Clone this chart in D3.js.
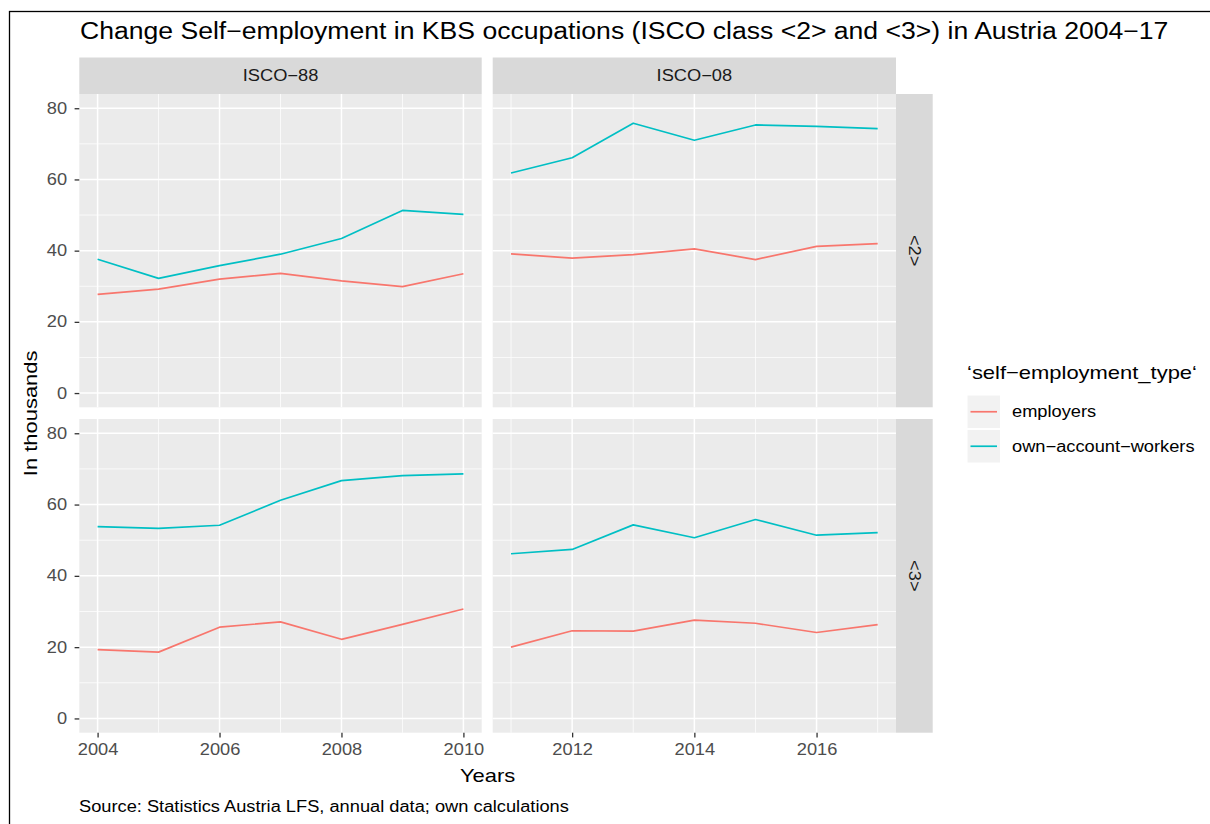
<!DOCTYPE html>
<html>
<head>
<meta charset="utf-8">
<script src="https://cdn.jsdelivr.net/npm/d3@7"></script>
<style>
  html, body { margin: 0; padding: 0; background: #fff; }
  svg { display: block; font-family: "Liberation Sans", Arial, Helvetica, sans-serif; }
</style>
</head>
<body>
<svg id="chart" width="1210" height="824"></svg>
<script>
// Self-employment (thousands) by ISCO classification period and occupation class
const yearsISCO88 = [2004, 2005, 2006, 2007, 2008, 2009, 2010];
const yearsISCO08 = [2011, 2012, 2013, 2014, 2015, 2016, 2017];

const columns = ["ISCO\u221288", "ISCO\u221208"];
const rows = ["<2>", "<3>"];
const seriesNames = ["employers", "own\u2212account\u2212workers"];
const seriesColors = ["#F8766D", "#00BFC4"];

// class <2>
const employers2_88 = [27.7, 29.2, 32.0, 33.6, 31.5, 29.9, 33.5];
const ownAccount2_88 = [37.6, 32.2, 35.8, 39.0, 43.4, 51.3, 50.2];
const employers2_08 = [39.1, 37.9, 38.9, 40.5, 37.5, 41.2, 42.0];
const ownAccount2_08 = [61.8, 66.1, 75.8, 71.0, 75.3, 74.9, 74.3];
// class <3>
const employers3_88 = [19.3, 18.6, 25.6, 27.1, 22.2, 26.4, 30.7];
const ownAccount3_88 = [53.8, 53.3, 54.2, 61.2, 66.7, 68.1, 68.6];
const employers3_08 = [20.0, 24.6, 24.5, 27.6, 26.7, 24.1, 26.3];
const ownAccount3_08 = [46.2, 47.4, 54.3, 50.7, 55.8, 51.4, 52.1];

const yTicks = [0, 20, 40, 60, 80];
const yMinor = [10, 30, 50, 70];
const xTicks88 = [2004, 2006, 2008, 2010];
const xMinor88 = [2005, 2007, 2009];
const xTicks08 = [2012, 2014, 2016];
const xMinor08 = [2011, 2013, 2015, 2017];

const titleText = "Change Self\u2212employment in KBS occupations (ISCO class <2> and <3>) in Austria 2004\u221217";
const xLabel = "Years";
const yLabel = "In thousands";
const legendTitle = "\u2018self\u2212employment_type\u2018";
const caption = "Source: Statistics Austria LFS, annual data; own calculations";

// facet cells: [row][col]
const cells = [
  [
    { years: yearsISCO88, values: [employers2_88, ownAccount2_88] },
    { years: yearsISCO08, values: [employers2_08, ownAccount2_08] }
  ],
  [
    { years: yearsISCO88, values: [employers3_88, ownAccount3_88] },
    { years: yearsISCO08, values: [employers3_08, ownAccount3_08] }
  ]
];

const svg = d3.select("#chart");

// type sizes
const baseSize = 19;
const smallSize = 15.8;
const titleSize = 23;
const textStretch = 1.155;   // glyphs are set slightly wide

// layout
const colX = [[79.3, 481.7], [492.7, 896]];
const rowY = [[94, 407.3], [419, 732.7]];
const stripTop = 57.5;
const stripRight = 932.7;

const xScales = [
  d3.scaleLinear().domain([2003.7, 2010.3]).range(colX[0]),
  d3.scaleLinear().domain([2010.7, 2017.3]).range(colX[1])
];
const yScales = rowY.map(r => d3.scaleLinear().domain([-4, 84]).range([r[1], r[0]]));
const xMajor = [xTicks88, xTicks08];
const xMinors = [xMinor88, xMinor08];

// outer frame
svg.append("rect")
  .attr("x", 9.5).attr("y", 11.5)
  .attr("width", 1400).attr("height", 1000)
  .attr("fill", "none").attr("stroke", "#000").attr("stroke-width", 1.3);

// title
svg.append("text")
  .attr("x", 80).attr("y", 39)
  .attr("font-size", titleSize)
  .attr("fill", "#000")
  .text(titleText);

// panels
rows.forEach((rowName, ri) => {
  columns.forEach((colName, ci) => {
    const xs = xScales[ci], ys = yScales[ri];
    const g = svg.append("g");
    g.append("rect")
      .attr("x", colX[ci][0]).attr("y", rowY[ri][0])
      .attr("width", colX[ci][1] - colX[ci][0])
      .attr("height", rowY[ri][1] - rowY[ri][0])
      .attr("fill", "#EBEBEB");

    // minor grid
    g.selectAll(".ymin").data(yMinor).join("line")
      .attr("x1", colX[ci][0]).attr("x2", colX[ci][1])
      .attr("y1", d => ys(d)).attr("y2", d => ys(d))
      .attr("stroke", "#fff").attr("stroke-width", 0.75);
    g.selectAll(".xmin").data(xMinors[ci]).join("line")
      .attr("y1", rowY[ri][0]).attr("y2", rowY[ri][1])
      .attr("x1", d => xs(d)).attr("x2", d => xs(d))
      .attr("stroke", "#fff").attr("stroke-width", 0.75);
    // major grid
    g.selectAll(".ymaj").data(yTicks).join("line")
      .attr("x1", colX[ci][0]).attr("x2", colX[ci][1])
      .attr("y1", d => ys(d)).attr("y2", d => ys(d))
      .attr("stroke", "#fff").attr("stroke-width", 1.5);
    g.selectAll(".xmaj").data(xMajor[ci]).join("line")
      .attr("y1", rowY[ri][0]).attr("y2", rowY[ri][1])
      .attr("x1", d => xs(d)).attr("x2", d => xs(d))
      .attr("stroke", "#fff").attr("stroke-width", 1.5);

    // series lines
    const cell = cells[ri][ci];
    const line = d3.line()
      .x((d, i) => xs(cell.years[i]))
      .y(d => ys(d));
    cell.values.forEach((vals, si) => {
      g.append("path")
        .attr("d", line(vals))
        .attr("fill", "none")
        .attr("stroke", seriesColors[si])
        .attr("stroke-width", 1.7)
        .attr("stroke-linejoin", "round");
    });

    // y axis on first column
    if (ci === 0) {
      const ax = svg.append("g")
        .attr("transform", `translate(${colX[0][0]},0)`)
        .call(d3.axisLeft(ys).tickValues(yTicks).tickSize(4.7).tickPadding(7.5));
      ax.select(".domain").remove();
      ax.selectAll(".tick line").attr("stroke", "#333").attr("stroke-width", 1.3);
      ax.selectAll(".tick text")
        .attr("fill", "#4D4D4D").attr("font-size", smallSize)
        .attr("font-family", "Liberation Sans, Arial, sans-serif");
    }
    // x axis on bottom row
    if (ri === 1) {
      const ax = svg.append("g")
        .attr("transform", `translate(0,${rowY[1][1]})`)
        .call(d3.axisBottom(xs).tickValues(xMajor[ci]).tickFormat(d3.format("d")).tickSize(4.7).tickPadding(6));
      ax.select(".domain").remove();
      ax.selectAll(".tick line").attr("stroke", "#333").attr("stroke-width", 1.3);
      ax.selectAll(".tick text")
        .attr("fill", "#4D4D4D").attr("font-size", smallSize)
        .attr("font-family", "Liberation Sans, Arial, sans-serif");
    }
  });
});

// column strips
columns.forEach((name, ci) => {
  svg.append("rect")
    .attr("x", colX[ci][0]).attr("y", stripTop)
    .attr("width", colX[ci][1] - colX[ci][0]).attr("height", rowY[0][0] - stripTop)
    .attr("fill", "#D9D9D9");
  svg.append("text")
    .attr("x", (colX[ci][0] + colX[ci][1]) / 2)
    .attr("y", (stripTop + rowY[0][0]) / 2)
    .attr("dy", "0.36em")
    .attr("text-anchor", "middle")
    .attr("font-size", smallSize).attr("fill", "#1A1A1A")
    .text(name);
});

// row strips
rows.forEach((name, ri) => {
  svg.append("rect")
    .attr("x", colX[1][1]).attr("y", rowY[ri][0])
    .attr("width", stripRight - colX[1][1]).attr("height", rowY[ri][1] - rowY[ri][0])
    .attr("fill", "#D9D9D9");
  const cx = (colX[1][1] + stripRight) / 2, cy = (rowY[ri][0] + rowY[ri][1]) / 2;
  svg.append("text")
    .attr("transform", `translate(${cx},${cy}) rotate(90)`)
    .attr("dy", "0.36em")
    .attr("text-anchor", "middle")
    .attr("font-size", smallSize).attr("fill", "#1A1A1A")
    .text(name);
});

// axis titles
svg.append("text")
  .attr("x", (colX[0][0] + colX[1][1]) / 2).attr("y", 782)
  .attr("text-anchor", "middle")
  .attr("font-size", baseSize).attr("fill", "#000")
  .text(xLabel);
svg.append("text")
  .attr("transform", `translate(36.5,${(rowY[0][0] + rowY[1][1]) / 2}) rotate(-90)`)
  .attr("text-anchor", "middle")
  .attr("font-size", baseSize).attr("fill", "#000")
  .text(yLabel);

// caption
svg.append("text")
  .attr("x", 79).attr("y", 812)
  .attr("font-size", smallSize).attr("fill", "#000")
  .text(caption);

// legend
const lg = svg.append("g").attr("transform", "translate(967,0)");
lg.append("text")
  .attr("x", 0).attr("y", 379)
  .attr("font-size", baseSize).attr("fill", "#000")
  .text(legendTitle);
seriesNames.forEach((name, i) => {
  const y0 = 395 + i * 34.5;
  lg.append("rect")
    .attr("x", 0).attr("y", y0).attr("width", 33.5).attr("height", 33.5)
    .attr("fill", "#F2F2F2").attr("stroke", "#fff").attr("stroke-width", 1);
  lg.append("line")
    .attr("x1", 3.5).attr("x2", 30).attr("y1", y0 + 16.75).attr("y2", y0 + 16.75)
    .attr("stroke", seriesColors[i]).attr("stroke-width", 1.7);
  lg.append("text")
    .attr("x", 45).attr("y", y0 + 16.75).attr("dy", "0.36em")
    .attr("font-size", smallSize).attr("fill", "#000")
    .text(name);
});

// widen every label by the same factor
svg.selectAll("text").each(function () {
  const w = this.getComputedTextLength();
  d3.select(this)
    .attr("textLength", w * textStretch)
    .attr("lengthAdjust", "spacingAndGlyphs");
});
</script>
</body>
</html>
